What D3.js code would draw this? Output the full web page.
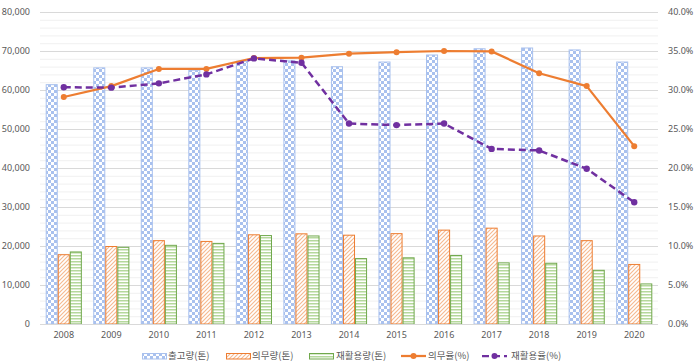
<!DOCTYPE html>
<html><head><meta charset="utf-8">
<script src="https://cdn.jsdelivr.net/npm/d3@7"></script>
<style>
html,body{margin:0;padding:0;background:#fff;}
svg{display:block;font-family:"Noto Sans CJK KR","Noto Sans",sans-serif;}
</style></head>
<body><svg id="c" width="695" height="364"></svg>
<script>
const years = ["2008","2009","2010","2011","2012","2013","2014","2015","2016","2017","2018","2019","2020"];
const shipped = [61500,65800,65800,65200,67500,67600,66100,67300,69100,70700,70900,70400,67300];
const obligation = [17900,20000,21500,21300,23000,23250,22900,23300,24200,24700,22700,21500,15400];
const recycled = [18600,19800,20300,20800,22800,22700,16900,17100,17700,15800,15700,13900,10400];
const obligationRate = [29.1,30.5,32.7,32.7,34.1,34.15,34.65,34.85,35.0,34.95,32.15,30.5,22.8];
const recycleRate = [30.35,30.3,30.85,32.0,34.05,33.5,25.7,25.5,25.7,22.45,22.25,19.9,15.6];
const leftTicks = [0,10000,20000,30000,40000,50000,60000,70000,80000];
const rightTicks = [0,5,10,15,20,25,30,35,40];
const legendLabels = ["출고량(톤)","의무량(톤)","재활용량(톤)","의무율(%)","재활용율(%)"];

const svg = d3.select("#c");
const L = 40, R = 658, T = 12, B = 324;
const x = d3.scaleBand().domain(years).range([L, R]).paddingInner(0.24).paddingOuter(0.12);
const xi = d3.scaleBand().domain([0,1,2]).range([0, x.bandwidth()]);
const yL = d3.scaleLinear().domain([0,80000]).range([B,T]);
const yR = d3.scaleLinear().domain([0,40]).range([B,T]);

const defs = svg.append("defs");
const pc = defs.append("pattern").attr("id","checker").attr("patternUnits","userSpaceOnUse").attr("width",6).attr("height",6);
pc.append("rect").attr("width",6).attr("height",6).attr("fill","#fff");
pc.append("rect").attr("width",3).attr("height",3).attr("fill","#a9c1ee");
pc.append("rect").attr("x",3).attr("y",3).attr("width",3).attr("height",3).attr("fill","#a9c1ee");
const pd = defs.append("pattern").attr("id","diag").attr("patternUnits","userSpaceOnUse").attr("width",4).attr("height",4);
pd.append("rect").attr("width",4).attr("height",4).attr("fill","#fff");
pd.append("path").attr("d","M-1,5 L5,-1 M-1,1 L1,-1 M3,5 L5,3").attr("stroke","#f6b98f").attr("stroke-width",1.1);
const ph = defs.append("pattern").attr("id","hstripe").attr("patternUnits","userSpaceOnUse").attr("width",4).attr("height",3);
ph.append("rect").attr("width",4).attr("height",3).attr("fill","#fff");
ph.append("rect").attr("y",0).attr("width",4).attr("height",1.5).attr("fill","#b5d89c");

// gridlines
const minor = d3.range(0, 80001, 2000).filter(v => v % 10000 !== 0);
svg.append("g").selectAll("line").data(minor).join("line")
  .attr("x1",L).attr("x2",R).attr("y1",d=>yL(d)+0.5).attr("y2",d=>yL(d)+0.5)
  .attr("stroke","#f0f0f0").attr("stroke-width",1);
svg.append("g").selectAll("line").data(leftTicks).join("line")
  .attr("x1",L).attr("x2",R).attr("y1",d=>Math.round(yL(d))+0.5).attr("y2",d=>Math.round(yL(d))+0.5)
  .attr("stroke","#d9d9d9").attr("stroke-width",1);

// bars
const series = [
  {vals: shipped, fill:"url(#checker)", stroke:"#a9c1ee"},
  {vals: obligation, fill:"url(#diag)", stroke:"#ed7d31"},
  {vals: recycled, fill:"url(#hstripe)", stroke:"#70a84c"}
];
series.forEach((s, si) => {
  svg.append("g").selectAll("rect").data(years).join("rect")
    .attr("x", d => x(d) + xi(si) + 0.5)
    .attr("y", (d,i) => yL(s.vals[i]) + 0.5)
    .attr("width", xi.bandwidth() - 1)
    .attr("height", (d,i) => yL(0) - yL(s.vals[i]) - 0.5)
    .attr("fill", s.fill).attr("stroke", s.stroke).attr("stroke-width", 1);
});

// axis baseline
svg.append("line").attr("x1",L).attr("x2",R).attr("y1",B+0.5).attr("y2",B+0.5).attr("stroke","#d9d9d9");

// axes
const axL = d3.axisLeft(yL).tickValues(leftTicks).tickFormat(d3.format(",")).tickSize(0).tickPadding(10);
const gL = svg.append("g").attr("transform",`translate(${L},0)`).call(axL);
const axR = d3.axisRight(yR).tickValues(rightTicks).tickFormat(d => d.toFixed(1)+"%").tickSize(0).tickPadding(10);
const gR = svg.append("g").attr("transform",`translate(${R},0)`).call(axR);
const axB = d3.axisBottom(x).tickSize(0).tickPadding(8);
const gB = svg.append("g").attr("transform",`translate(0,${B})`).call(axB);
[gL,gR,gB].forEach(g => {
  g.select(".domain").remove();
  g.selectAll("text").attr("fill","#595959").style("font-size","9px").style("font-family","'Noto Sans','Noto Sans CJK KR',sans-serif");
});

// lines
const cx = (d) => x(d) + x.bandwidth()/2;
const lineGen = vals => d3.line().x(d => cx(d)).y((d,i) => yR(vals[i]))(years);
svg.append("path").attr("d", lineGen(obligationRate)).attr("fill","none").attr("stroke","#ed7d31").attr("stroke-width",2.25).attr("stroke-linejoin","round");
svg.append("g").selectAll("circle").data(years).join("circle")
  .attr("cx", cx).attr("cy",(d,i)=>yR(obligationRate[i])).attr("r",3).attr("fill","#ed7d31");
svg.append("path").attr("d", lineGen(recycleRate)).attr("fill","none").attr("stroke","#7030a0").attr("stroke-width",2.5).attr("stroke-dasharray","7,4").attr("stroke-linejoin","round");
svg.append("g").selectAll("circle").data(years).join("circle")
  .attr("cx", cx).attr("cy",(d,i)=>yR(recycleRate[i])).attr("r",3.2).attr("fill","#7030a0");

// legend
const lg = svg.append("g").attr("transform","translate(0,356)");
const items = [
  {sx:142, tx:168, type:"rect", fill:"url(#checker)", stroke:"#a9c1ee"},
  {sx:226, tx:252, type:"rect", fill:"url(#diag)", stroke:"#ed7d31"},
  {sx:309, tx:336, type:"rect", fill:"url(#hstripe)", stroke:"#70a84c"},
  {sx:401, tx:428, type:"line", stroke:"#ed7d31", dash:null},
  {sx:482, tx:511, type:"line", stroke:"#7030a0", dash:"7,4"}
];
items.forEach((it, i) => {
  if (it.type === "rect") {
    lg.append("rect").attr("x",it.sx+0.5).attr("y",-2.5).attr("width",24).attr("height",5.5)
      .attr("fill",it.fill).attr("stroke",it.stroke).attr("stroke-width",1);
  } else {
    lg.append("line").attr("x1",it.sx).attr("x2",it.sx+25).attr("y1",0).attr("y2",0)
      .attr("stroke",it.stroke).attr("stroke-width",2.25).attr("stroke-dasharray",it.dash);
    lg.append("circle").attr("cx",it.sx+12.5).attr("cy",0).attr("r",3).attr("fill",it.stroke);
  }
  lg.append("text").attr("x",it.tx).attr("y",0).attr("dy","0.35em")
    .attr("fill","#595959").style("font-size","9.5px").text(legendLabels[i]);
});
</script></body></html>
